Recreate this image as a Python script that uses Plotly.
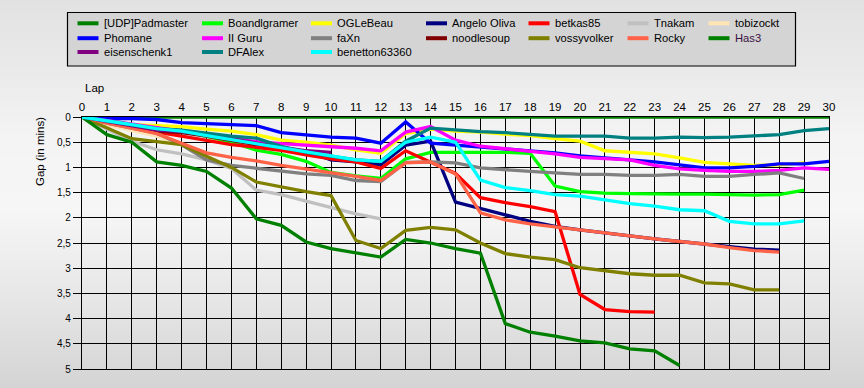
import base64, struct, zlib
import plotly.graph_objects as go

# ---------------- data ----------------
names = ["[UDP]Padmaster", "Boandlgramer", "OGLeBeau", "Angelo Oliva", "betkas85", "Tnakam", "tobizockt",
         "Phomane", "II Guru", "faXn", "noodlesoup", "vossyvolker", "Rocky", "Has3",
         "eisenschenk1", "DFAlex", "benetton63360"]

colors = ["#008000", "#00ff00", "#ffff00", "#000080", "#ff0000", "#c0c0c0", "#ffe4b5",
          "#0000ff", "#ff00ff", "#808080", "#800000", "#808000", "#ff6347", "#008000",
          "#800080", "#008080", "#00ffff"]

padmaster = [0, 0, 0, 0, 0, 0, 0, 0, 0, 0, 0, 0, 0, 0, 0, 0, 0, 0, 0, 0, 0, 0, 0, 0, 0, 0, 0, 0, 0, 0, 0]
boandlgramer = [0, 0.05, 0.15, 0.22, 0.27, 0.38, 0.50, 0.66, 0.74, 0.88, 1.10, 1.17, 1.22, 0.83, 0.70, 0.70,
                0.70, 0.70, 0.72, 1.37, 1.48, 1.51, 1.52, 1.53, 1.53, 1.53, 1.54, 1.55, 1.54, 1.45]
oglebeau = [0, 0.08, 0.15, 0.17, 0.19, 0.24, 0.28, 0.35, 0.46, 0.50, 0.56, 0.65, 0.72, 0.33, 0.24, 0.28,
            0.30, 0.34, 0.37, 0.43, 0.48, 0.67, 0.70, 0.73, 0.81, 0.90, 0.93, 0.96, 0.95, 0.91]
angelo_oliva = [0, 0.09, 0.18, 0.25, 0.27, 0.34, 0.42, 0.54, 0.64, 0.68, 0.85, 0.89, 0.95, 0.56, 0.48, 1.69,
                1.81, 1.94, 2.07, 2.17, 2.24, 2.30, 2.37, 2.42, 2.47, 2.52, 2.57, 2.62, 2.64]
betkas85 = [0, 0.08, 0.20, 0.30, 0.38, 0.47, 0.55, 0.60, 0.66, 0.75, 0.83, 0.89, 1.02, 0.67, 0.89, 1.12,
            1.60, 1.70, 1.78, 1.88, 3.52, 3.82, 3.86, 3.87]
tnakam = [0, 0.24, 0.48, 0.65, 0.73, 0.85, 1.02, 1.45, 1.54, 1.67, 1.80, 1.92, 2.02]
tobizockt = [0, 0.15, 0.27, 0.38, 0.55]
phomane = [0, 0.03, 0.03, 0.05, 0.11, 0.13, 0.14, 0.17, 0.31, 0.36, 0.40, 0.42, 0.52, 0.10, 0.52, 0.56,
           0.60, 0.64, 0.67, 0.71, 0.77, 0.81, 0.85, 0.89, 0.95, 1.01, 1.01, 0.98, 0.93, 0.93, 0.88]
ii_guru = [0, 0.07, 0.15, 0.22, 0.28, 0.35, 0.43, 0.49, 0.53, 0.56, 0.59, 0.62, 0.67, 0.30, 0.19, 0.46,
           0.58, 0.63, 0.67, 0.73, 0.80, 0.83, 0.85, 0.96, 1.03, 1.06, 1.08, 1.08, 1.06, 1.01, 1.04]
faxn = [0, 0.12, 0.22, 0.32, 0.55, 0.85, 0.96, 1.02, 1.08, 1.13, 1.16, 1.26, 1.28, 0.90, 0.89, 0.91,
        1.01, 1.05, 1.08, 1.11, 1.14, 1.14, 1.16, 1.16, 1.14, 1.18, 1.18, 1.14, 1.11, 1.22]
noodlesoup = [0, 0.10, 0.19, 0.28, 0.31, 0.38, 0.46, 0.55]
vossyvolker = [0, 0.22, 0.43, 0.49, 0.55, 0.78, 1.00, 1.29, 1.39, 1.48, 1.56, 2.45, 2.61, 2.25, 2.19, 2.24,
               2.50, 2.71, 2.78, 2.83, 2.99, 3.05, 3.11, 3.14, 3.14, 3.29, 3.31, 3.43, 3.43]
rocky = [0, 0.12, 0.22, 0.33, 0.52, 0.71, 0.80, 0.87, 0.96, 1.03, 1.11, 1.18, 1.26, 0.91, 0.89, 1.13,
         1.90, 2.04, 2.12, 2.18, 2.25, 2.31, 2.37, 2.42, 2.47, 2.52, 2.59, 2.65, 2.68]
has3 = [0, 0.35, 0.50, 0.89, 0.96, 1.08, 1.41, 2.02, 2.15, 2.48, 2.61, 2.69, 2.78, 2.43, 2.50, 2.61,
        2.70, 4.10, 4.27, 4.35, 4.44, 4.48, 4.60, 4.64, 4.93]
eisenschenk1 = [0, 0.09, 0.18, 0.26, 0.29, 0.35, 0.43, 0.52, 0.60, 0.67, 0.70]
dfalex = [0, 0.08, 0.16, 0.23, 0.26, 0.32, 0.38, 0.42, 0.58, 0.70, 0.78, 0.85, 0.88, 0.48, 0.22, 0.26,
          0.29, 0.31, 0.34, 0.38, 0.38, 0.38, 0.42, 0.42, 0.40, 0.41, 0.40, 0.38, 0.35, 0.27, 0.23]
benetton63360 = [0, 0.07, 0.15, 0.23, 0.28, 0.37, 0.45, 0.54, 0.62, 0.70, 0.78, 0.85, 0.88, 0.50, 0.40, 0.50,
                 1.25, 1.40, 1.46, 1.54, 1.57, 1.64, 1.72, 1.77, 1.84, 1.86, 2.07, 2.12, 2.12, 2.06]

series = [padmaster, boandlgramer, oglebeau, angelo_oliva, betkas85, tnakam, tobizockt,
          phomane, ii_guru, faxn, noodlesoup, vossyvolker, rocky, has3,
          eisenschenk1, dfalex, benetton63360]

lap_ticks = list(range(0, 31))
gap_ticks = [0, 0.5, 1, 1.5, 2, 2.5, 3, 3.5, 4, 4.5, 5]
gap_labels = ["0", "0,5", "1", "1,5", "2", "2,5", "3", "3,5", "4", "4,5", "5"]

# ---------------- layout geometry (pixels) ----------------
W, H = 864, 388
L, R, T, B = 82, 35, 117, 19
PW, PH = W - L - R, H - T - B


def px(x):
    return (x - L) / PW


def py(y):
    return (H - B - y) / PH


# background gradient image (vertical)
def make_png(stops, h):
    vals = []
    for yy in range(h):
        for i in range(len(stops) - 1):
            (y0, c0), (y1, c1) = stops[i], stops[i + 1]
            if y0 <= yy <= y1:
                t = (yy - y0) / (y1 - y0) if y1 > y0 else 0
                vals.append(int(round(c0 + (c1 - c0) * t)))
                break
    raw = b"".join(b"\x00" + bytes([v, v]) for v in vals)

    def chunk(tag, data):
        c = struct.pack(">I", len(data)) + tag + data
        return c + struct.pack(">I", zlib.crc32(tag + data) & 0xffffffff)

    png = (b"\x89PNG\r\n\x1a\n" + chunk(b"IHDR", struct.pack(">IIBBBBB", 2, h, 8, 0, 0, 0, 0))
           + chunk(b"IDAT", zlib.compress(raw)) + chunk(b"IEND", b""))
    return "data:image/png;base64," + base64.b64encode(png).decode()


bg = make_png([(0, 226), (70, 234), (140, 244), (210, 246), (300, 230), (387, 212)], H)

fig = go.Figure()
for name, col, vals in zip(names, colors, series):
    fig.add_trace(go.Scatter(x=list(range(len(vals))), y=vals, mode="lines", name=name,
                             line=dict(color=col, width=3.3), showlegend=False))

FONT = "Liberation Sans, Arial, sans-serif"

shapes = []
annotations = []
# legend box
shapes.append(dict(type="rect", xref="paper", yref="paper", x0=px(67.5), x1=px(795.5), y0=py(66), y1=py(12.5),
                   line=dict(color="black", width=1.2), fillcolor="#d4d4d4", layer="below"))
col_x = [77.5, 202, 311, 426, 528.5, 627.5, 708.5]
row_y = [23.3, 38.2, 52]
for i, (name, col) in enumerate(zip(names, colors)):
    r, c = divmod(i, 7)
    x0 = col_x[c]
    y0 = row_y[r]
    shapes.append(dict(type="line", xref="paper", yref="paper", x0=px(x0), x1=px(x0 + 21), y0=py(y0), y1=py(y0),
                       line=dict(color=col, width=4)))
    annotations.append(dict(xref="paper", yref="paper", x=px(x0 + 24), y=py(y0), xanchor="left", yanchor="middle",
                            text=name, showarrow=False,
                            font=dict(family=FONT, size=11.2, color="#3a1040" if name == "Has3" else "black")))

annotations.append(dict(xref="paper", yref="paper", x=px(83), y=py(88), xanchor="left", yanchor="middle",
                        text="Lap", showarrow=False, font=dict(family=FONT, size=11.5, color="black")))
annotations.append(dict(xref="paper", yref="paper", x=px(40), y=py(152), xanchor="center", yanchor="middle",
                        text="Gap (in mins)", textangle=-90, showarrow=False,
                        font=dict(family=FONT, size=11.5, color="black")))

fig.update_layout(
    width=W, height=H,
    margin=dict(l=L, r=R, t=T, b=B, pad=0),
    paper_bgcolor="#e8e8e8",
    plot_bgcolor="white",
    font=dict(family=FONT, size=11, color="black"),
    shapes=shapes,
    annotations=annotations,
    images=[dict(source=bg, xref="paper", yref="paper", x=px(0), y=py(0), sizex=W / PW, sizey=H / PH,
                 sizing="stretch", xanchor="left", yanchor="top", layer="below")],
    xaxis=dict(range=[0, 30], side="top", tickmode="array", tickvals=lap_ticks,
               showgrid=True, gridcolor="black", gridwidth=1.3, zeroline=False,
               showline=True, linecolor="black", linewidth=1.3, mirror=True,
               ticks="", tickfont=dict(family=FONT, size=11.5, color="black")),
    yaxis=dict(range=[5, 0], tickmode="array", tickvals=gap_ticks, ticktext=gap_labels,
               showgrid=True, gridcolor="black", gridwidth=1.3, zeroline=False,
               showline=True, linecolor="black", linewidth=1.3, mirror=True,
               ticks="outside", ticklen=8, tickcolor="black", tickwidth=1.3,
               tickfont=dict(family=FONT, size=10, color="black")),
)

fig.write_html("out.html", config={"displayModeBar": False},
               post_script="document.body.style.margin='0px';document.body.style.overflow='hidden';")
